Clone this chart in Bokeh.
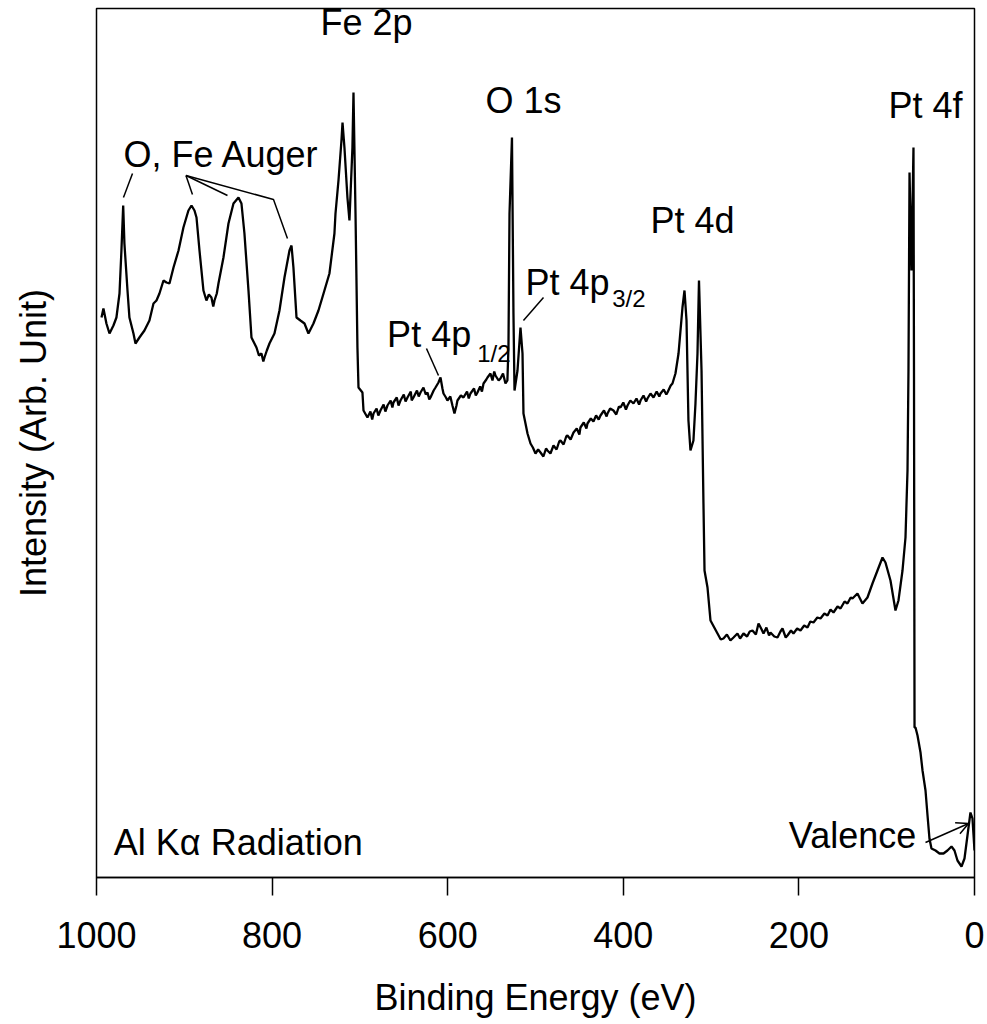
from bokeh.plotting import figure
from bokeh.models import Range1d, FixedTicker, Label, Arrow, OpenHead
from bokeh.embed import file_html
from bokeh.resources import INLINE

# ---- spectrum: (binding energy in eV, intensity in arbitrary units) ----
spectrum_points = [
    (994.3, 560), (992.1, 569), (988.7, 554), (985.2, 544), (980.7, 552),
    (977.3, 560), (973.8, 584), (971.6, 627), (969.6, 672), (968.2, 634),
    (964.7, 587), (962.5, 560), (957.9, 544), (955.6, 534), (951.1, 540),
    (945.4, 547), (939.7, 557), (935.1, 574), (931.7, 577), (928.3, 584),
    (923.7, 597), (920.3, 595), (916.9, 594), (912.3, 610), (906.6, 627),
    (901.0, 650), (895.3, 667), (891.8, 672), (888.4, 667), (886.1, 660),
    (882.7, 627), (878.2, 587), (874.8, 577), (872.0, 583), (869.1, 580),
    (867.0, 571), (865.6, 577), (863.0, 584), (861.1, 594), (855.4, 620),
    (849.7, 654), (844.0, 674), (838.3, 680), (834.9, 674), (831.5, 644),
    (826.9, 587), (823.5, 540), (817.8, 530), (815.0, 522), (812.1, 524),
    (810.0, 516), (808.7, 520), (806.0, 527), (803.0, 534), (797.3, 544),
    (791.6, 567), (785.9, 600), (780.2, 627), (777.9, 632), (775.7, 610),
    (772.2, 560), (767.7, 557), (763.1, 554), (758.6, 544), (752.9, 554),
    (747.2, 567), (740.4, 587), (734.7, 604), (729.0, 644), (727.8, 664),
    (724.4, 697), (721.0, 737), (719.8, 755), (717.6, 730), (714.2, 680),
    (711.9, 657), (708.5, 730), (707.3, 785), (705.0, 664), (702.8, 530),
    (701.6, 490), (697.1, 485), (695.9, 467), (691.4, 460), (688.0, 466),
    (686.0, 458), (684.5, 464), (681.0, 469), (679.0, 462), (676.6, 467),
    (673.0, 473), (671.0, 466), (668.6, 472), (665.0, 477), (663.0, 470),
    (661.8, 475), (658.0, 480), (656.0, 472), (653.8, 477), (650.0, 483),
    (648.0, 476), (645.8, 480), (642.0, 486), (641.0, 477), (639.0, 480),
    (635.0, 487), (633.0, 481), (631.0, 485), (627.6, 490), (625.0, 483),
    (623.0, 485), (621.0, 478), (619.6, 480), (616.0, 487), (613.9, 490),
    (610.5, 495), (608.2, 500), (606.0, 489), (604.8, 484), (602.0, 480),
    (600.3, 477), (597.0, 481), (594.6, 472), (592.3, 464), (590.0, 472),
    (588.9, 477), (585.0, 482), (582.0, 480), (578.0, 486), (576.0, 479),
    (574.1, 484), (570.0, 489), (568.0, 482), (566.1, 485), (563.0, 491),
    (561.0, 486), (559.2, 494), (556.0, 498), (554.7, 500), (551.3, 504),
    (549.0, 497), (547.0, 506), (545.6, 502), (542.0, 497), (539.9, 499),
    (537.0, 504), (534.2, 494), (532.0, 497), (530.8, 530), (529.6, 664),
    (526.8, 740), (525.1, 564), (523.9, 487), (520.5, 507), (517.1, 550),
    (514.8, 524), (513.7, 464), (509.1, 444), (505.7, 434), (503.0, 430),
    (500.0, 424), (497.0, 428), (494.3, 425), (491.0, 421), (488.0, 429),
    (486.4, 427), (483.0, 424), (479.5, 432), (476.0, 428), (473.0, 436),
    (471.5, 437), (468.0, 433), (465.0, 441), (463.6, 442), (460.0, 438),
    (456.7, 445), (453.0, 449), (450.0, 443), (448.8, 450), (445.0, 455),
    (442.0, 449), (440.8, 454), (437.0, 459), (434.0, 456), (431.0, 462),
    (428.0, 458), (426.0, 462), (422.0, 467), (419.0, 461), (418.0, 464),
    (415.0, 469), (411.2, 467), (408.0, 463), (405.0, 471), (403.2, 470),
    (400.0, 475), (397.0, 468), (395.2, 472), (392.0, 477), (388.4, 474),
    (385.0, 479), (382.0, 473), (380.4, 477), (377.0, 482), (374.0, 476),
    (372.5, 479), (369.0, 484), (365.6, 480), (362.0, 486), (359.0, 481),
    (357.6, 484), (354.0, 488), (351.0, 483), (349.7, 485), (346.0, 492),
    (344.0, 494), (340.6, 504), (337.1, 524), (332.6, 570), (330.3, 587),
    (328.0, 557), (325.8, 457), (323.5, 427), (320.1, 437), (317.8, 474),
    (315.5, 524), (313.8, 597), (310.9, 507), (308.7, 374), (307.5, 307),
    (304.1, 290), (300.7, 257), (292.7, 244), (289.0, 238), (285.9, 239),
    (282.0, 243), (278.0, 237), (274.5, 240), (270.0, 244), (267.0, 239),
    (263.1, 244), (259.0, 241), (256.0, 246), (252.9, 247), (249.0, 243),
    (246.0, 254), (243.0, 249), (240.3, 244), (237.0, 250), (234.0, 242),
    (232.4, 245), (228.0, 241), (224.4, 240), (221.0, 246), (218.7, 249),
    (215.0, 240), (213.0, 242), (209.0, 247), (206.2, 244), (202.0, 249),
    (198.2, 247), (194.0, 252), (190.2, 250), (187.0, 256), (183.4, 255),
    (179.0, 260), (175.4, 259), (171.0, 264), (167.4, 262), (164.0, 268),
    (160.6, 265), (156.0, 271), (152.6, 269), (148.0, 276), (144.7, 274),
    (141.0, 280), (139.0, 279), (133.3, 284), (127.6, 274), (121.9, 280),
    (116.2, 294), (110.5, 307), (104.8, 320), (101.4, 315), (95.7, 297),
    (90.0, 267), (86.6, 277), (82.0, 307), (78.6, 340), (76.3, 407),
    (75.2, 507), (74.0, 705), (71.8, 607), (69.5, 730), (68.9, 500),
    (68.3, 150), (67.2, 150), (64.9, 142), (61.5, 125), (59.2, 107),
    (55.8, 87), (53.5, 62), (51.3, 39), (49.0, 29), (44.4, 27),
    (39.9, 24), (35.3, 24), (30.8, 27), (26.2, 31), (22.8, 27),
    (19.4, 17), (14.8, 11), (11.4, 19), (8.0, 42), (4.6, 65),
    (2.3, 59), (0.0, 27),
]
energy_ev = [e for e, _ in spectrum_points]
intensity = [i for _, i in spectrum_points]

x_ticks = [1000, 800, 600, 400, 200, 0]

# ---- annotation texts ----
label_texts = ["O, Fe Auger", "Fe 2p", "O 1s", "Pt 4p", "Pt 4p", "Pt 4d", "Pt 4f",
               "Al K\u03b1 Radiation", "Valence"]
label_x = [969.3, 744.9, 557.0, 669.0, 511.4, 369.0, 98.0, 980.3, 211.5]
label_y = [723, 855, 777, 543, 595, 657, 772, 35, 42]

sub_texts = ["1/2", "3/2"]
sub_x = [566.4, 412.7]
sub_y = [524, 579]

leader_x = [[959.0, 969.3], [898.1, 890.7], [898.1, 850.8], [898.1, 798.4, 782.5],
            [624.2, 610.5], [490.9, 513.7]]
leader_y = [[704, 680], [702, 683], [702, 682], [702, 678, 639],
            [529, 502], [580, 557]]

FONT = "Liberation Sans"

p = figure(width=987, height=1024, output_backend="svg", toolbar_location=None,
           x_range=Range1d(1000, 0), y_range=Range1d(0, 869),
           min_border_left=96, min_border_right=13, min_border_top=8,
           min_border_bottom=147)
p.background_fill_color = "white"
p.border_fill_color = "white"
p.grid.visible = False
p.outline_line_color = "black"
p.outline_line_width = 1.5

p.line(energy_ev, intensity, line_color="black", line_width=2.3)
p.multi_line(leader_x, leader_y, line_color="black", line_width=1.5)

p.add_layout(Arrow(end=OpenHead(size=12, line_width=1.5, line_color="black"),
                   x_start=55.8, y_start=35, x_end=6.8, y_end=54,
                   line_width=1.5, line_color="black"))

for t, x, y in zip(label_texts, label_x, label_y):
    p.add_layout(Label(x=x, y=y, text=t, text_font=FONT, text_font_size="36px",
                       text_color="black", text_align="left",
                       text_baseline="alphabetic"))
for t, x, y in zip(sub_texts, sub_x, sub_y):
    p.add_layout(Label(x=x, y=y, text=t, text_font=FONT, text_font_size="24px",
                       text_color="black", text_align="left",
                       text_baseline="alphabetic"))

xa = p.xaxis[0]
xa.ticker = FixedTicker(ticks=x_ticks, minor_ticks=[])
xa.axis_label = "Binding Energy (eV)"
xa.axis_label_text_font = FONT
xa.axis_label_text_font_size = "36px"
xa.axis_label_text_font_style = "normal"
xa.axis_label_text_color = "black"
xa.axis_label_standoff = 26
xa.major_label_text_font = FONT
xa.major_label_text_font_size = "36px"
xa.major_label_text_color = "black"
xa.major_label_standoff = 26
xa.major_tick_in = 0
xa.major_tick_out = 18
xa.major_tick_line_width = 1.5
xa.major_tick_line_color = "black"
xa.minor_tick_line_color = None
xa.axis_line_width = 1.5
xa.axis_line_color = "black"

ya = p.yaxis[0]
ya.ticker = FixedTicker(ticks=[], minor_ticks=[])
ya.major_label_text_font_size = "0px"
ya.major_tick_line_color = None
ya.minor_tick_line_color = None
ya.axis_line_color = None
ya.axis_label = "Intensity (Arb. Unit)"
ya.axis_label_text_font = FONT
ya.axis_label_text_font_size = "36px"
ya.axis_label_text_font_style = "normal"
ya.axis_label_text_color = "black"
ya.axis_label_standoff = 43

open("out.html", "w").write(file_html(p, INLINE))
